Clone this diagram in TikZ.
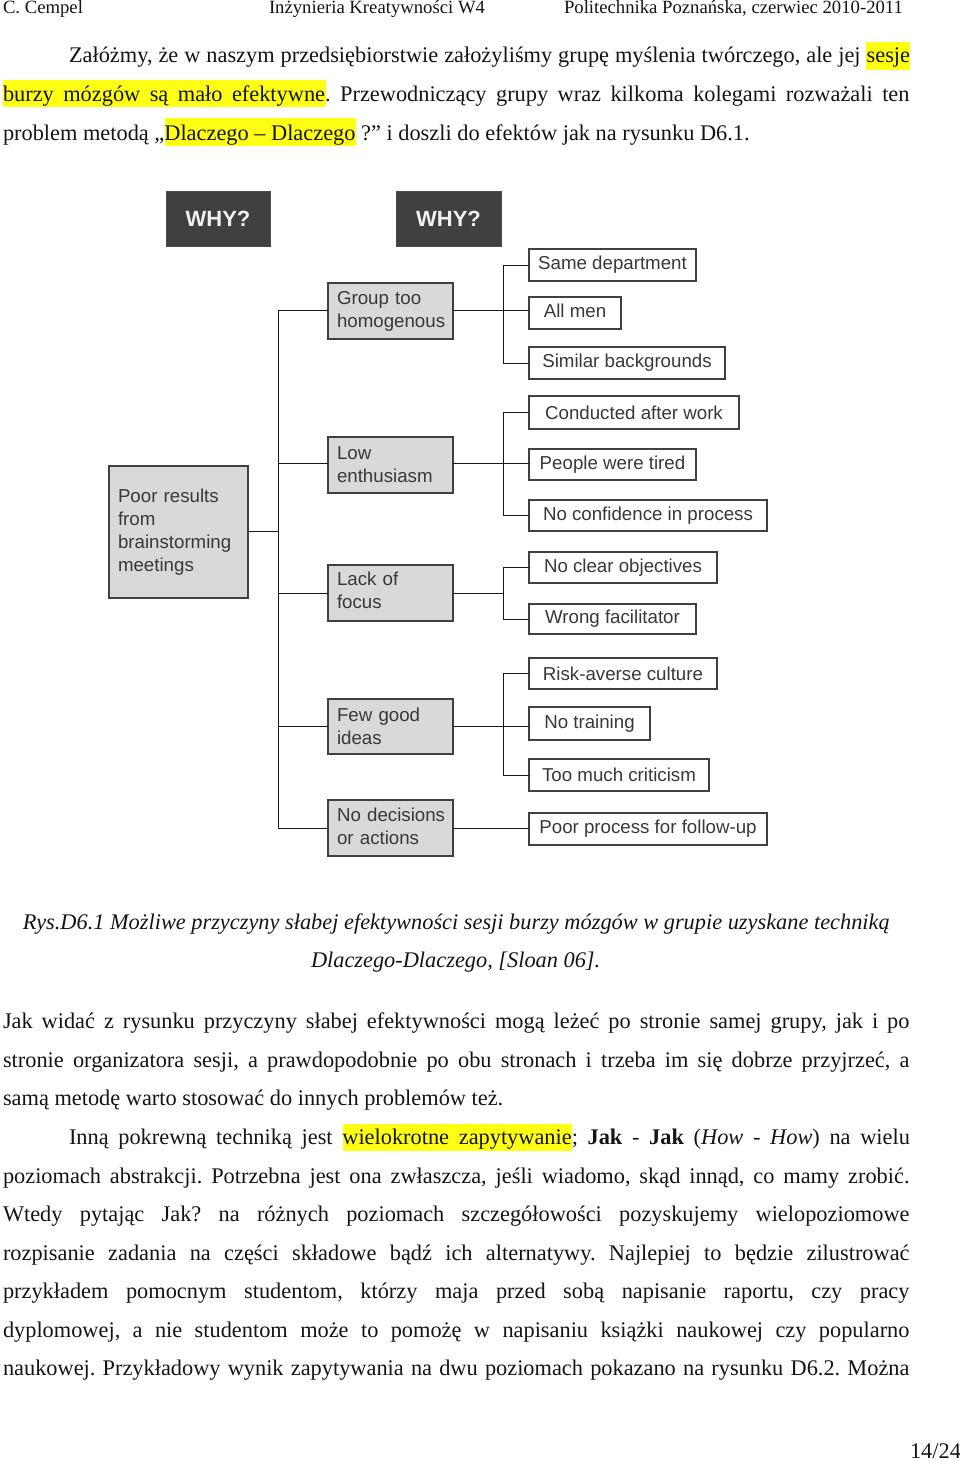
\documentclass[tikz,border=0pt]{standalone}
\usepackage{fontspec}
\setmainfont{Liberation Serif}
\newfontfamily\boxfont{Liberation Sans}
\frenchspacing
\newcommand{\bodyfont}{\fontsize{22.35}{26}\selectfont}
\newcommand{\headfont}{\fontsize{18.7}{22}\selectfont}
\newcommand{\jl}[3]{\node[txt] (#1) at (3,#2) {\bodyfont\makebox[906.5pt][s]{#3}};}
\newcommand{\jp}[3]{\node[txt] (#1) at (69,#2) {\bodyfont\makebox[841pt][s]{#3}};}
\newcommand{\pl}[3]{\node[txt] (#1) at (3,#2) {\bodyfont #3};}
\newcommand{\hibar}[4]{\fill[hiyellow] (#1,#2) rectangle (#3,#4);}
\definecolor{hiyellow}{RGB}{255,255,20}
\newcommand{\bx}[7][]{% style, name, x1,y1,x2,y2,text
  \pgfmathsetmacro{\bw}{#5-#3}\pgfmathsetmacro{\bh}{#6-#4}%
  \pgfmathsetmacro{\cx}{(#5+#3)/2}\pgfmathsetmacro{\cy}{(#6+#4)/2}%
  \node[#1,minimum width=\bw pt,minimum height=\bh pt] (#2) at (\cx,\cy) {#7};}
\tikzset{
  txt/.style={anchor=base west,inner sep=0pt,outer sep=0pt,text=black!92},
  why/.style={fill=black!75,draw=black!70,line width=.6pt,inner sep=0pt,outer sep=0pt,text=white!94!black,font=\boxfont\bfseries\fontsize{22}{26}\selectfont},
  cause/.style={fill=black!15,draw=black!75,line width=1.1pt,outer sep=0pt,inner sep=0pt,align=left,text=black!78,font=\boxfont\fontsize{18.7}{23}\selectfont},
  leaf/.style={fill=white,draw=black!75,line width=1.1pt,outer sep=0pt,inner sep=0pt,align=center,text=black!78,font=\boxfont\fontsize{18.7}{23}\selectfont},
  wire/.style={draw=black!90,line width=1pt}
}
\begin{document}
\begin{tikzpicture}[x=1pt,y=-1pt]
\useasboundingbox (0,0) rectangle (960,1461);
% highlights
\hibar{866}{42}{910}{70}
\hibar{3}{80}{326}{107}
\hibar{165}{118}{356}{146}
\hibar{343}{1124}{572}{1151}
% header
\node[txt] (hleft) at (3,14) {\headfont C. Cempel};
\node[txt] (hmid) at (269,14) {\headfont Inżynieria Kreatywności W4};
\node[txt] (hright) at (564,14) {\headfont Politechnika Poznańska, czerwiec 2010-2011};
% top paragraph
\jp{ta}{63}{Załóżmy, że w naszym przedsiębiorstwie założyliśmy grupę myślenia twórczego, ale jej sesje}
\jl{tb}{102}{burzy mózgów są mało efektywne. Przewodniczący grupy wraz kilkoma kolegami rozważali ten}
\pl{tc}{140}{problem metodą „Dlaczego – Dlaczego ?” i doszli do efektów jak na rysunku D6.1.}
% diagram
\bx[why]{whya}{166}{191}{270}{246}{WHY?}
\bx[why]{whyb}{396}{191}{501}{246}{WHY?}
\bx[cause,text width=121pt]{poor}{109}{466}{248}{598}{Poor results\\from\\brainstorming\\meetings}
\bx[cause,text width=107pt]{group}{328}{283}{453}{339}{Group too\\homogenous}
\bx[cause,text width=107pt]{low}{328}{437}{453}{493}{Low\\enthusiasm}
\bx[cause,text width=107pt,text depth=28pt]{lack}{328}{565}{453}{621}{Lack of\\focus}
\bx[cause,text width=107pt]{few}{328}{699}{453}{754}{Few good\\ideas}
\bx[cause,text width=107pt,text depth=26pt]{nodec}{328}{800}{453}{856}{\mbox{No decisions}\\or actions}
\bx[leaf]{same}{529}{249}{696}{281}{Same department}
\bx[leaf,text depth=4pt]{men}{529}{297}{621}{329}{All men}
\bx[leaf]{similar}{529}{347}{725}{379}{Similar backgrounds}
\bx[leaf]{conducted}{529}{396}{739}{429}{Conducted after work}
\bx[leaf]{tired}{529}{449}{696}{480}{People were tired}
\bx[leaf]{confidence}{529}{500}{767}{531}{No confidence in process}
\bx[leaf]{clear}{529}{552}{717}{583}{No clear objectives}
\bx[leaf]{wrong}{529}{604}{696}{634}{Wrong facilitator}
\bx[leaf]{risk}{529}{658}{717}{689}{Risk-averse culture}
\bx[leaf]{training}{529}{707}{650}{740}{No training}
\bx[leaf]{criticism}{529}{759}{709}{791}{Too much criticism}
\bx[leaf]{process}{529}{813}{767}{845}{Poor process for follow-up}
% connectors
\coordinate (busa) at (278,531);
\coordinate (busb) at (503,310);
\coordinate (busc) at (503,463);
\coordinate (busd) at (503,593);
\coordinate (buse) at (503,726);
\draw[wire] (poor.east |- busa) -- (busa);
\draw[wire] (busa) |- (group.west |- busb);
\draw[wire] (busa) |- (low.west |- busc);
\draw[wire] (busa) |- (lack.west |- busd);
\draw[wire] (busa) |- (few.west);
\draw[wire] (busa) |- (nodec.west);
\draw[wire] (group.east |- busb) -- (busb);
\draw[wire] (busb) |- (same.west);
\draw[wire] (busb) -- (men.west |- busb);
\draw[wire] (busb) |- (similar.west);
\draw[wire] (low.east |- busc) -- (busc);
\draw[wire] (busc) |- (conducted.west);
\draw[wire] (busc) -- (tired.west |- busc);
\draw[wire] (busc) |- (confidence.west);
\draw[wire] (lack.east |- busd) -- (busd);
\draw[wire] (busd) |- (clear.west);
\draw[wire] (busd) |- (wrong.west);
\draw[wire] (few.east |- buse) -- (buse);
\draw[wire] (buse) |- (risk.west);
\draw[wire] (buse) -- (training.west |- buse);
\draw[wire] (buse) |- (criticism.west);
\draw[wire] (nodec.east) -- (process.west |- nodec.east);
% caption
\node[txt] (capa) at (23,929) {\bodyfont\itshape Rys.D6.1 Możliwe przyczyny słabej efektywności sesji burzy mózgów w grupie uzyskane techniką};
\node[txt] (capb) at (311,967) {\bodyfont\itshape Dlaczego-Dlaczego, [Sloan 06].};
% lower text
\jl{pa}{1028}{Jak widać z rysunku przyczyny słabej efektywności mogą leżeć po stronie samej grupy, jak i po}
\jl{pb}{1067}{stronie organizatora sesji, a prawdopodobnie po obu stronach i trzeba im się dobrze przyjrzeć, a}
\pl{pc}{1105}{samą metodę warto stosować do innych problemów też.}
\jp{pd}{1144}{Inną pokrewną techniką jest wielokrotne zapytywanie; \textbf{Jak} - \textbf{Jak} (\textit{How} - \textit{How}) na wielu}
\jl{pe}{1183}{poziomach abstrakcji. Potrzebna jest ona zwłaszcza, jeśli wiadomo, skąd innąd, co mamy zrobić.}
\jl{pf}{1221}{Wtedy pytając Jak? na różnych poziomach szczegółowości pozyskujemy wielopoziomowe}
\jl{pg}{1260}{rozpisanie zadania na części składowe bądź ich alternatywy. Najlepiej to będzie zilustrować}
\jl{ph}{1298}{przykładem pomocnym studentom, którzy maja przed sobą napisanie raportu, czy pracy}
\jl{pi}{1337}{dyplomowej, a nie studentom może to pomożę w napisaniu książki naukowej czy popularno}
\jl{pj}{1375}{naukowej. Przykładowy wynik zapytywania na dwu poziomach pokazano na rysunku D6.2. Można}
\node[txt] (pagenum) at (910,1458) {\bodyfont 14/24};
\end{tikzpicture}
\end{document}
